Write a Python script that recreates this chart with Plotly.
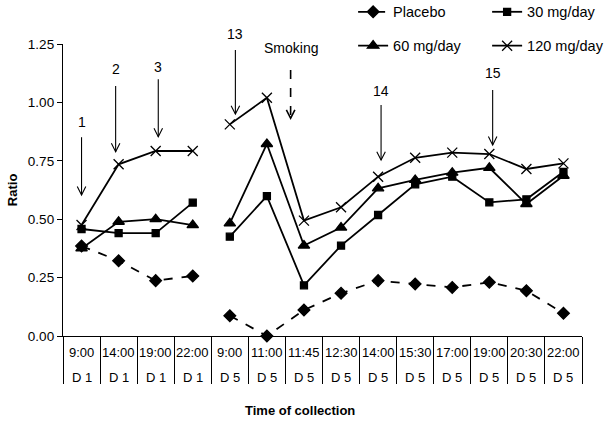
import plotly.graph_objects as go

times = ["9:00", "14:00", "19:00", "22:00", "9:00", "11:00", "11:45", "12:30",
         "14:00", "15:30", "17:00", "19:00", "20:30", "22:00"]
days = ["D 1"] * 4 + ["D 5"] * 10
placebo = [0.385, 0.322, 0.237, 0.257, 0.087, 0.000, 0.111, 0.183, 0.237, 0.223, 0.208, 0.230, 0.194, 0.097]
mg30 = [0.458, 0.440, 0.440, 0.571, 0.425, 0.599, 0.217, 0.387, 0.518, 0.649, 0.682, 0.572, 0.585, 0.703]
mg60 = [0.375, 0.489, 0.500, 0.475, 0.482, 0.822, 0.387, 0.464, 0.632, 0.668, 0.699, 0.720, 0.565, 0.686]
mg120 = [0.475, 0.735, 0.792, 0.792, 0.906, 1.020, 0.494, 0.551, 0.682, 0.763, 0.785, 0.779, 0.715, 0.739]

# arrow annotations: label, x (category index), text y, arrow top, arrow tip, dashed
arrow_labels = ["1", "2", "3", "13", "Smoking", "14", "15"]
arrow_x = [0.0, 0.92, 2.07, 4.15, 5.64, 8.08, 11.09]
arrow_text_y = [0.917, 1.142, 1.150, 1.293, 1.233, 1.050, 1.126]
arrow_top = [0.851, 1.070, 1.099, 1.224, 1.139, 0.989, 1.053]
arrow_tip = [0.604, 0.789, 0.853, 0.950, 0.932, 0.753, 0.818]
arrow_dashed = [False, False, False, False, True, False, False]

Y_MAX = 1.25
FONT = "Liberation Sans, Arial, sans-serif"


def with_gap(vals):
    xs, ys = [], []
    for i, v in enumerate(vals):
        if i > 0 and days[i] != days[i - 1]:
            xs.append(None)
            ys.append(None)
        xs.append(i)
        ys.append(v)
    return xs, ys


fig = go.Figure()
series = [
    ("Placebo", placebo, "diamond", 9, "dash", "legend"),
    ("30 mg/day", mg30, "square", 7, "solid", "legend"),
    ("60 mg/day", mg60, "triangle-up", 10, "solid", "legend2"),
    ("120 mg/day", mg120, "x-thin-open", 10, "solid", "legend2"),
]
for name, vals, sym, size, dash, leg in series:
    xs, ys = with_gap(vals)
    fig.add_trace(go.Scatter(
        x=xs, y=ys, name=name, mode="lines+markers",
        line=dict(color="black", width=1.8, dash=dash),
        marker=dict(symbol=sym, size=size, color="black",
                    line=dict(color="black", width=1.3)),
        legend=leg, cliponaxis=False,
    ))

n = len(times)
annotations = []
for i in range(n):
    annotations.append(dict(x=i, y=0, xref="x", yref="paper", text=times[i],
                            showarrow=False, yshift=-16, yanchor="middle",
                            font=dict(size=13, color="black", family=FONT)))
    annotations.append(dict(x=i, y=0, xref="x", yref="paper", text=days[i],
                            showarrow=False, yshift=-41, yanchor="middle",
                            font=dict(size=13, color="black", family=FONT)))

shapes = []
dx, dy = 0.115, 0.036
for lab, x, ty, top, tip, dashed in zip(arrow_labels, arrow_x, arrow_text_y,
                                         arrow_top, arrow_tip, arrow_dashed):
    annotations.append(dict(x=x, y=ty / Y_MAX, xref="x", yref="paper", text=lab, showarrow=False,
                            yanchor="middle",
                            font=dict(size=14, color="black", family=FONT)))
    shapes.append(dict(type="line", xref="x", yref="y", x0=x, x1=x, y0=top, y1=tip,
                       line=dict(color="black", width=1.6 if dashed else 1.1,
                                 dash="dash" if dashed else "solid")))
    shapes.append(dict(type="path", xref="x", yref="y",
                       path=f"M {x - dx},{tip + dy} L {x},{tip} L {x + dx},{tip + dy}",
                       line=dict(color="black", width=1.6 if dashed else 1.1)))

annotations.append(dict(x=0.457, y=0, xref="paper", yref="paper", text="<b>Time of collection</b>",
                        showarrow=False, yshift=-74, yanchor="middle",
                        font=dict(size=13, color="black", family=FONT)))
annotations.append(dict(x=-0.098, y=0.5, xref="paper", yref="paper", text="<b>Ratio</b>",
                        showarrow=False, textangle=-90, xanchor="center", yanchor="middle",
                        font=dict(size=13, color="black", family=FONT)))

fig.update_layout(
    width=612, height=422,
    margin=dict(l=63, r=30, t=44, b=86, autoexpand=False),
    paper_bgcolor="white", plot_bgcolor="white",
    font=dict(family=FONT, color="black", size=13),
    showlegend=True,
    legend=dict(orientation="h", x=0.559, y=1.11, xanchor="left", yanchor="middle",
                entrywidth=89, font=dict(size=14.5, family=FONT), bgcolor="rgba(0,0,0,0)"),
    legend2=dict(orientation="h", x=0.559, y=0.994, xanchor="left", yanchor="middle",
                 entrywidth=89, font=dict(size=14.5, family=FONT), bgcolor="rgba(0,0,0,0)"),
    annotations=annotations,
    shapes=shapes,
)
fig.update_xaxes(range=[-0.5, n - 0.5], tickvals=[i - 0.5 for i in range(n + 1)],
                 showticklabels=False, ticks="outside", ticklen=47, tickwidth=1.3,
                 tickcolor="black", showline=True, linecolor="black", linewidth=1.3,
                 showgrid=False, zeroline=False)
fig.update_yaxes(range=[0, Y_MAX], dtick=0.25, tickformat=".2f", ticks="outside", ticklen=5,
                 tickcolor="black", showline=True, linecolor="black", linewidth=1.3,
                 showgrid=False, zeroline=False, tickfont=dict(size=13.5, family=FONT))

fig.write_html("out.html", config={"displayModeBar": False},
               post_script="document.body.style.margin='0px';")
